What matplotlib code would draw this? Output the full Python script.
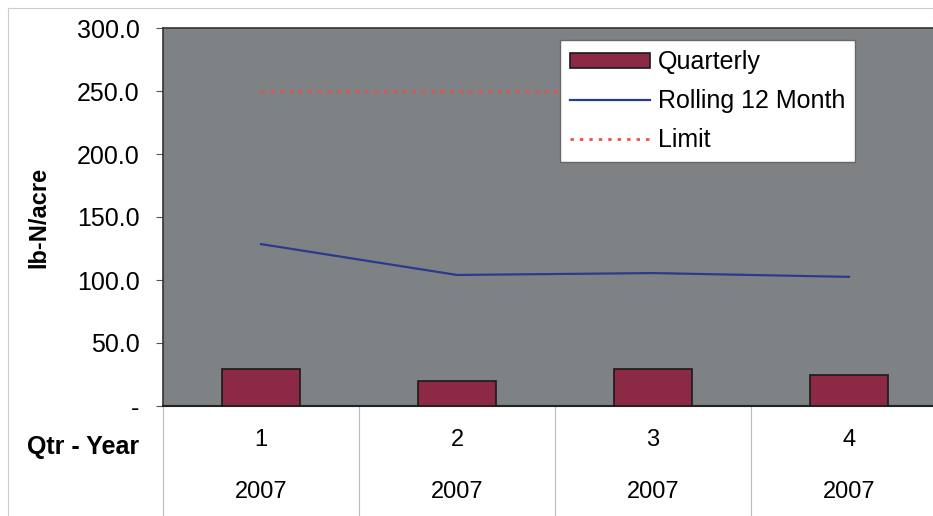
import numpy as np
import matplotlib.pyplot as plt
import matplotlib.transforms as mtransforms

plt.rcParams['font.family'] = ['Liberation Sans', 'DejaVu Sans']

# data
quarters = ["1", "2", "3", "4"]
years = ["2007", "2007", "2007", "2007"]
quarterly = [29.5, 20.0, 29.0, 24.5]
rolling_12 = [128.5, 104.0, 105.5, 102.5]
limit = [250.0, 250.0, 250.0, 250.0]
y_ticks = [0, 50, 100, 150, 200, 250, 300]
y_tick_labels = ["-", "50.0", "100.0", "150.0", "200.0", "250.0", "300.0"]

fig = plt.figure(figsize=(9.33, 5.16), dpi=100)
fig.patch.set_facecolor('white')

# plot area runs past the right edge of the picture, as in the original
ax = fig.add_axes([163 / 933, 110 / 516, 784 / 933, 378 / 516])
ax.set_facecolor('#7f8285')

x = np.arange(len(quarters))
bars = ax.bar(x, quarterly, width=0.4, color='#8c2a45', edgecolor='#1a1a1a',
              linewidth=1.2, label='Quarterly', zorder=3)
roll, = ax.plot(x, rolling_12, color='#2c3a8c', linewidth=1.6,
                label='Rolling 12 Month', zorder=4)
lim, = ax.plot(x, limit, color='#e8504a', linewidth=2, linestyle=(0, (1.2, 2.2)),
               label='Limit', zorder=2)

ax.set_xlim(-0.5, 3.5)
ax.set_ylim(0, 300)
ax.set_yticks(y_ticks)
ax.set_yticklabels(y_tick_labels, fontsize=18)
ax.tick_params(axis='y', length=5, width=0.8, color='#555555', pad=12)
ax.set_xticks([])
ax.set_ylabel("lb-N/acre", fontsize=17, fontweight='bold', labelpad=19)

for side in ['top', 'left']:
    ax.spines[side].set_color('#333333')
    ax.spines[side].set_linewidth(1.2)
ax.spines['bottom'].set_color('#222222')
ax.spines['bottom'].set_linewidth(1.5)
ax.spines['right'].set_visible(False)

# category table below the plot
trans = mtransforms.blended_transform_factory(ax.transData, ax.transAxes)
for xb in np.arange(-0.5, len(quarters) + 0.5):
    ax.plot([xb, xb], [0, -0.3], color='#bbbbbb', linewidth=0.8,
            transform=trans, clip_on=False)
for xi, q, yr in zip(x, quarters, years):
    ax.text(xi, -0.09, q, transform=trans, ha='center', va='center', fontsize=17)
    ax.text(xi, -0.2275, yr, transform=trans, ha='center', va='center', fontsize=17)
ax.text(-0.62, -0.108, "Qtr - Year", transform=trans, ha='right', va='center',
        fontsize=18, fontweight='bold')

# chart border
fig.add_artist(plt.Line2D([8 / 933, 8 / 933], [0, 1 - 8 / 516],
                          color='#cccccc', linewidth=0.8))
fig.add_artist(plt.Line2D([8 / 933, 1], [1 - 8 / 516, 1 - 8 / 516],
                          color='#cccccc', linewidth=0.8))

leg = ax.legend([bars, roll, lim], ['Quarterly', 'Rolling 12 Month', 'Limit'],
                loc='upper left', bbox_to_anchor=(560 / 933, 1 - 40 / 516),
                bbox_transform=fig.transFigure, borderaxespad=0, fontsize=18,
                frameon=True, fancybox=False, handlelength=3.2,
                handleheight=0.55, borderpad=0.4, labelspacing=0.6,
                handletextpad=0.3)
leg.get_frame().set_facecolor('white')
leg.get_frame().set_edgecolor('#666666')
leg.get_frame().set_alpha(1)
leg.set_zorder(5)

fig.savefig("out.png", dpi=100)
